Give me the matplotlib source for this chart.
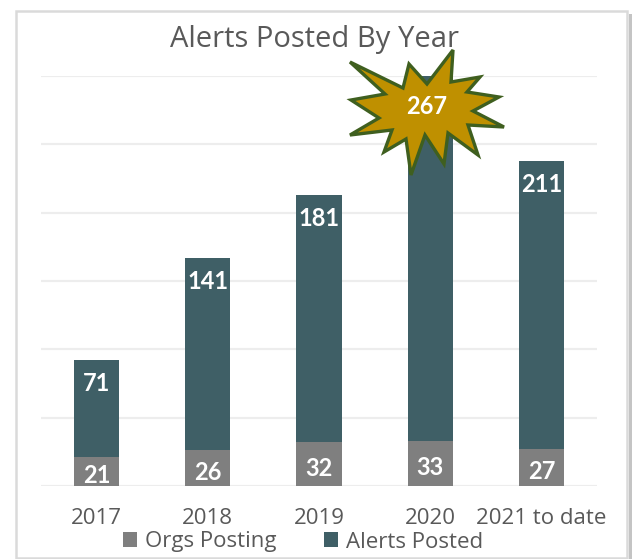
import matplotlib
matplotlib.use("Agg")
import matplotlib.pyplot as plt
from matplotlib.patches import Polygon, Rectangle

years = ["2017", "2018", "2019", "2020", "2021 to date"]
orgs_posting = [21, 26, 32, 33, 27]
alerts_posted = [71, 141, 181, 267, 211]

# outline of the burst, traced in image pixels
star_x = [350, 403, 409, 427, 453, 451, 480, 467, 499, 473, 504, 468, 478, 448, 444, 425, 411, 406, 384, 392, 350, 379, 351, 385]
star_y = [62, 88, 64, 84, 50, 82, 77, 92, 97, 111, 127, 125, 155, 133, 164, 135, 175, 139, 152, 130, 135, 118, 100, 94]

TEAL = "#3F5F66"
GREY = "#7F7F7F"
TEXT = "#595959"

plt.rcParams["font.family"] = ["Open Sans", "DejaVu Sans"]

fig = plt.figure(figsize=(6.36, 5.59), dpi=100)
ax = fig.add_axes([41 / 636, 1 - 486 / 559, 556 / 636, 410 / 559])

bars1 = ax.bar(years, orgs_posting, width=0.405, color=GREY, label="Orgs Posting", zorder=3)
bars2 = ax.bar(years, alerts_posted, width=0.405, bottom=orgs_posting, color=TEAL, label="Alerts Posted", zorder=3)

ax.set_xlim(-0.5, 4.5)
ax.set_ylim(0, 300)
ax.set_yticks(range(0, 301, 50))
ax.set_yticklabels([])
ax.grid(axis="y", color="#EDEDED", linewidth=1.6, zorder=0)
ax.tick_params(length=0)
ax.tick_params(axis="x", labelsize=16, labelcolor=TEXT, pad=16)
for s in ax.spines.values():
    s.set_visible(False)

for i in range(len(years)):
    ax.annotate(str(orgs_posting[i]), (i, orgs_posting[i] / 2), xytext=(0, -3), textcoords="offset points",
                ha="center", va="center", color="white", fontsize=17, fontweight="bold", family="Lato", zorder=4)
    if i != 3:
        ax.annotate(str(alerts_posted[i]), (i, orgs_posting[i] + alerts_posted[i]), xytext=(0, -17), textcoords="offset points",
                    ha="center", va="center", color="white", fontsize=17, fontweight="bold", family="Lato", zorder=4)

fig.text(315 / 636, 1 - 39 / 559, "Alerts Posted By Year", ha="center", va="center", fontsize=21, color=TEXT)

fig.legend(handles=[bars1, bars2], loc="center", bbox_to_anchor=(303 / 636, 1 - 542 / 559), ncol=2, frameon=False,
           fontsize=16, labelcolor=TEXT, handlelength=0.64, handleheight=0.64, handletextpad=0.35, columnspacing=2.15,
           borderpad=0, borderaxespad=0)

# overlay in image pixels for the frame and the burst
ov = fig.add_axes([0, 0, 1, 1], facecolor="none")
ov.set_xlim(0, 636)
ov.set_ylim(559, 0)
ov.axis("off")
ov.add_patch(Rectangle((629, 14), 3, 545, facecolor="#C4C4C4", edgecolor="none"))
ov.add_patch(Rectangle((16, 11), 611, 547, facecolor="none", edgecolor="#DADADA", linewidth=1.8))
ov.add_patch(Polygon(list(zip(star_x, star_y)), closed=True, facecolor="#BF9000", edgecolor="#3F5F1F", linewidth=2.4, joinstyle="miter"))
ov.text(427, 106, str(alerts_posted[3]), ha="center", va="center", color="white", fontsize=17, fontweight="bold", family="Lato")

fig.savefig("out.png", dpi=100)
